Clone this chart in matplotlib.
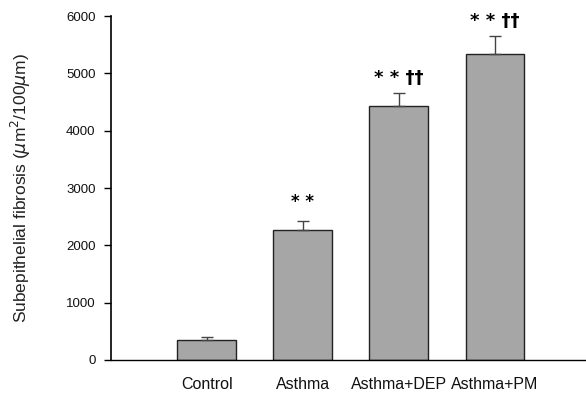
import matplotlib
matplotlib.use("Agg")
import matplotlib.pyplot as plt
import numpy as np

categories = ["Control", "Asthma", "Asthma+DEP", "Asthma+PM"]
values = [350, 2260, 4430, 5340]
errors = [50, 165, 225, 310]
annotations = ["", "* *", "* * \u2020\u2020", "* * \u2020\u2020"]
yticks = [0, 1000, 2000, 3000, 4000, 5000, 6000]

plt.rcParams['font.family'] = ['Liberation Sans', 'DejaVu Sans']

fig = plt.figure(figsize=(5.86, 4.04), dpi=100)
ax = fig.add_axes([0.189, 0.109, 0.811, 0.851])

x = np.arange(len(categories))
ax.bar(x, values, width=0.61, color='#a6a6a6', edgecolor='#222222', linewidth=1.0, zorder=2)
ax.errorbar(x, values, yerr=[np.zeros(len(errors)), errors], fmt='none',
            ecolor='#444444', elinewidth=1.0, capsize=4, capthick=1.0, zorder=3)

for xi, v, e, a in zip(x, values, errors, annotations):
    if not a:
        continue
    if '\u2020' in a:
        ax.text(xi, v + e + 110, a, ha='center', va='bottom', fontsize=13,
                fontweight='bold', family=['DejaVu Sans'])
    else:
        ax.text(xi, v + e + 170, a, ha='center', va='bottom', fontsize=12,
                fontweight='bold', family=['DejaVu Sans'])

ax.set_xlim(-1.0, 3.95)
ax.set_ylim(0, 6000)
ax.set_yticks(yticks)
ax.set_yticklabels([str(t) for t in yticks], fontsize=9.5, color='#111111')
ax.set_xticks(x)
ax.set_xticklabels(categories, fontsize=11.5, color='#111111')
ax.tick_params(axis='x', length=0, pad=12)
ax.tick_params(axis='y', direction='out', length=5, width=1, pad=6)
for s in ['top', 'right']:
    ax.spines[s].set_visible(False)
ax.spines['left'].set_linewidth(1.2)
ax.spines['bottom'].set_linewidth(1.0)
ax.set_ylabel('Subepithelial fibrosis ($\\mu$m$^2$/100$\\mu$m)', fontsize=12.5,
              labelpad=24, color='#222222')

fig.savefig('out.png', dpi=100)
